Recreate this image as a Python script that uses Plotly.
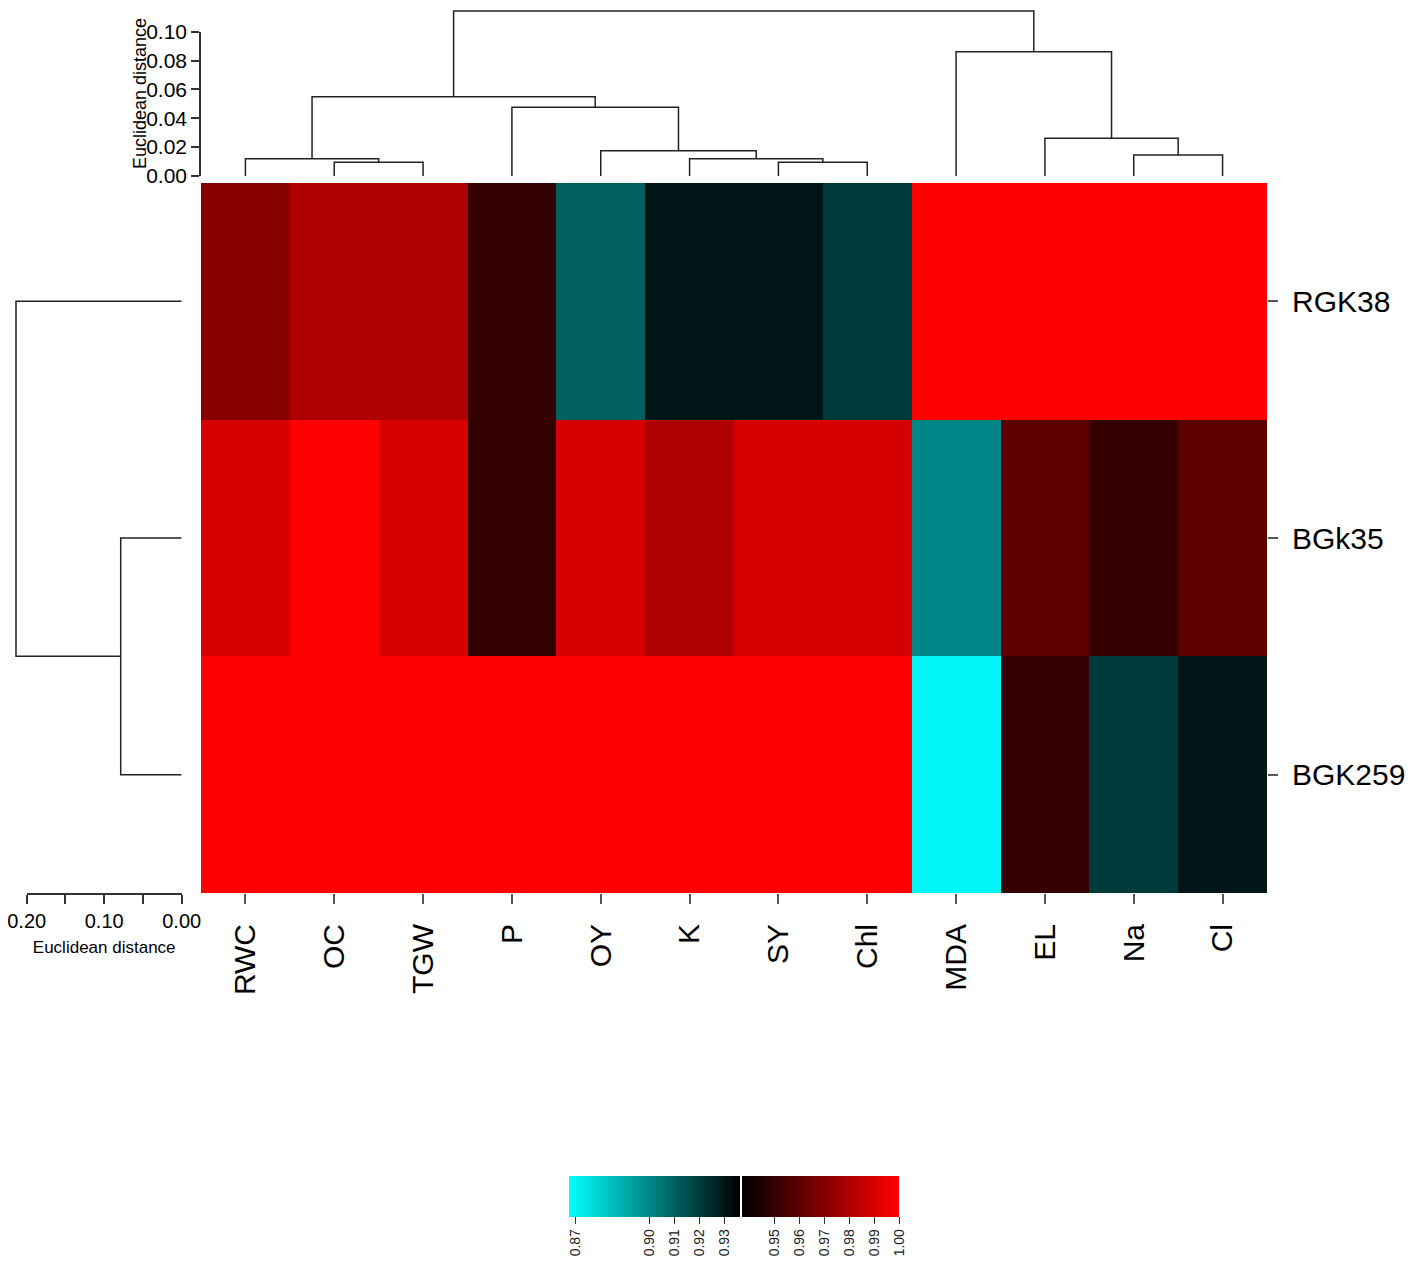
import plotly.graph_objects as go

# ---- data ----
columns = ["RWC", "OC", "TGW", "P", "OY", "K", "SY", "Chl", "MDA", "EL", "Na", "Cl"]
rows = ["RGK38", "BGk35", "BGK259"]

rgk38 = [0.97, 0.98, 0.98, 0.95, 0.91, 0.93, 0.93, 0.92, 1.00, 1.00, 1.00, 1.00]
bgk35 = [0.99, 1.00, 0.99, 0.95, 0.99, 0.98, 0.99, 0.99, 0.90, 0.96, 0.95, 0.96]
bgk259 = [1.00, 1.00, 1.00, 1.00, 1.00, 1.00, 1.00, 1.00, 0.87, 0.95, 0.92, 0.93]

# merges: (left, right, height); an int refers to an earlier merge
col_merges = [
    ("OC", "TGW", 0.0095),
    ("RWC", 0, 0.0120),
    ("SY", "Chl", 0.0095),
    ("K", 2, 0.0120),
    ("OY", 3, 0.0175),
    ("P", 4, 0.0476),
    (1, 5, 0.0550),
    ("Na", "Cl", 0.0146),
    ("EL", 7, 0.0261),
    ("MDA", 8, 0.0861),
    (6, 9, 0.1143),
]
row_merges = [
    ("BGk35", "BGK259", 0.0787),
    ("RGK38", 0, 0.2138),
]

col_dist_ticks = [0.00, 0.02, 0.04, 0.06, 0.08, 0.10]
row_dist_ticks = [0.00, 0.05, 0.10, 0.15, 0.20]
row_dist_labels = ["0.00", "", "0.10", "", "0.20"]
cbar_ticks = [0.87, 0.90, 0.91, 0.92, 0.93, 0.95, 0.96, 0.97, 0.98, 0.99, 1.00]


def dendro_segments(merges, leaves):
    pos = {name: i for i, name in enumerate(leaves)}
    nodes = []
    along, height = [], []

    def get(c):
        if isinstance(c, int):
            return nodes[c]
        return (pos[c], 0.0)

    for l, r, h in merges:
        pl, hl = get(l)
        pr, hr = get(r)
        along += [pl, pl, pr, pr, None]
        height += [hl, h, h, hr, None]
        nodes.append(((pl + pr) / 2, h))
    return along, height


W, H = 1417, 1272
OFF = 8  # page body margin
FONT = "Liberation Sans, Arial, Helvetica, sans-serif"


def fx(p):
    return min(1.0, max(0.0, (p - OFF) / W))


def fy(p):
    return min(1.0, max(0.0, 1 - (p - OFF) / H))


hm_l, hm_r, hm_t, hm_b = 201, 1267, 183, 893
top_base, top_unit, top_px = 176, 1443.0, 9   # px of 0.00, px per unit, top of area
left_base, left_unit = 181.7, 775.0

zmin, zmax, zblack = 0.8675, 1.0, 0.9365
t = (zblack - zmin) / (zmax - zmin)
gap = 0.004
colorscale = [
    [0.0, "#00ffff"],
    [t - gap, "#000000"],
    [t - gap, "#ffffff"],
    [t + gap, "#ffffff"],
    [t + gap, "#000000"],
    [1.0, "#ff0000"],
]

fig = go.Figure()

fig.add_trace(go.Heatmap(
    z=[rgk38, bgk35, bgk259],
    x=list(range(len(columns))),
    y=list(range(len(rows))),
    colorscale=colorscale, zmin=zmin, zmax=zmax,
    hoverinfo="skip",
    colorbar=dict(
        orientation="h", lenmode="pixels", len=330, thickness=41,
        x=fx(734), xanchor="center", y=fy(1176), yanchor="top",
        xpad=0, ypad=0, outlinewidth=0,
        tickvals=cbar_ticks, ticktext=[f"{v:.2f}" for v in cbar_ticks],
        tickangle=-90, ticks="outside", ticklen=7, tickcolor="#333",
        tickfont=dict(size=14, color="#222", family=FONT),
    ),
))

line = dict(color="#222222", width=1.5)

ca, ch = dendro_segments(col_merges, columns)
fig.add_trace(go.Scatter(x=ca, y=ch, mode="lines", line=line,
                         xaxis="x2", yaxis="y2", hoverinfo="skip", showlegend=False))
ra, rh = dendro_segments(row_merges, rows)
fig.add_trace(go.Scatter(x=rh, y=ra, mode="lines", line=line,
                         xaxis="x3", yaxis="y3", hoverinfo="skip", showlegend=False))
# carriers for the R-style distance axes
fig.add_trace(go.Scatter(x=[], y=[], xaxis="x2", yaxis="y4", showlegend=False))
fig.add_trace(go.Scatter(x=[], y=[], xaxis="x4", yaxis="y3", showlegend=False))

hidden = dict(showgrid=False, zeroline=False, showticklabels=False, ticks="", showline=False)

fig.update_layout(
    width=W, height=H,
    margin=dict(l=0, r=0, t=0, b=0, autoexpand=False),
    paper_bgcolor="white", plot_bgcolor="rgba(0,0,0,0)",
    font=dict(family=FONT, color="black"),
    showlegend=False,
    xaxis=dict(
        domain=[fx(hm_l), fx(hm_r)], range=[-0.5, len(columns) - 0.5],
        tickvals=list(range(len(columns))), ticktext=columns,
        tickangle=-90, ticks="outside", ticklen=10, tickwidth=1.5, tickcolor="#555",
        ticklabelstandoff=8, tickfont=dict(size=30, color="black"),
        showgrid=False, zeroline=False, showline=False, anchor="y",
    ),
    yaxis=dict(
        domain=[fy(hm_b), fy(hm_t)], range=[len(rows) - 0.5, -0.5],
        tickvals=list(range(len(rows))), ticktext=rows, side="right",
        ticks="outside", ticklen=10, tickwidth=1.5, tickcolor="#555",
        ticklabelstandoff=8, tickfont=dict(size=30, color="black"),
        showgrid=False, zeroline=False, showline=False, anchor="x",
    ),
    xaxis2=dict(domain=[fx(hm_l), fx(hm_r)], range=[-0.5, len(columns) - 0.5],
                anchor="y2", **hidden),
    yaxis2=dict(domain=[fy(top_base), fy(top_px)],
                range=[0, (top_base - top_px) / top_unit], anchor="x2", **hidden),
    yaxis4=dict(
        domain=[fy(top_base), fy(top_base - 0.10 * top_unit)], range=[0, 0.10],
        anchor="x2", side="left",
        tickvals=col_dist_ticks, ticktext=[f"{v:.2f}" for v in col_dist_ticks],
        ticks="outside", ticklen=8, tickwidth=1.5, tickcolor="#333",
        showline=True, linecolor="#333", linewidth=1.5,
        tickfont=dict(size=21, color="black"),
        showgrid=False, zeroline=False,
    ),
    xaxis3=dict(domain=[0, fx(left_base)], range=[(left_base - OFF) / left_unit, 0],
                anchor="y3", **hidden),
    yaxis3=dict(domain=[fy(hm_b), fy(hm_t)], range=[len(rows) - 0.5, -0.5],
                anchor="x3", **hidden),
    xaxis4=dict(
        domain=[fx(left_base - 0.20 * left_unit), fx(left_base)], range=[0.20, 0],
        anchor="y3", side="bottom",
        tickvals=row_dist_ticks, ticktext=row_dist_labels,
        ticks="outside", ticklen=9, tickwidth=1.5, tickcolor="#333",
        showline=True, linecolor="#333", linewidth=1.5,
        tickfont=dict(size=20, color="black"), ticklabeloverflow="allow",
        title=dict(text="Euclidean distance", font=dict(size=17, color="black"), standoff=10),
        showgrid=False, zeroline=False,
    ),
    annotations=[dict(
        text="Euclidean distance", textangle=-90, showarrow=False,
        xref="paper", yref="paper", x=fx(140), y=fy(94),
        xanchor="center", yanchor="middle",
        font=dict(size=18, color="black", family=FONT),
    )],
)

fig.write_html("out.html")
